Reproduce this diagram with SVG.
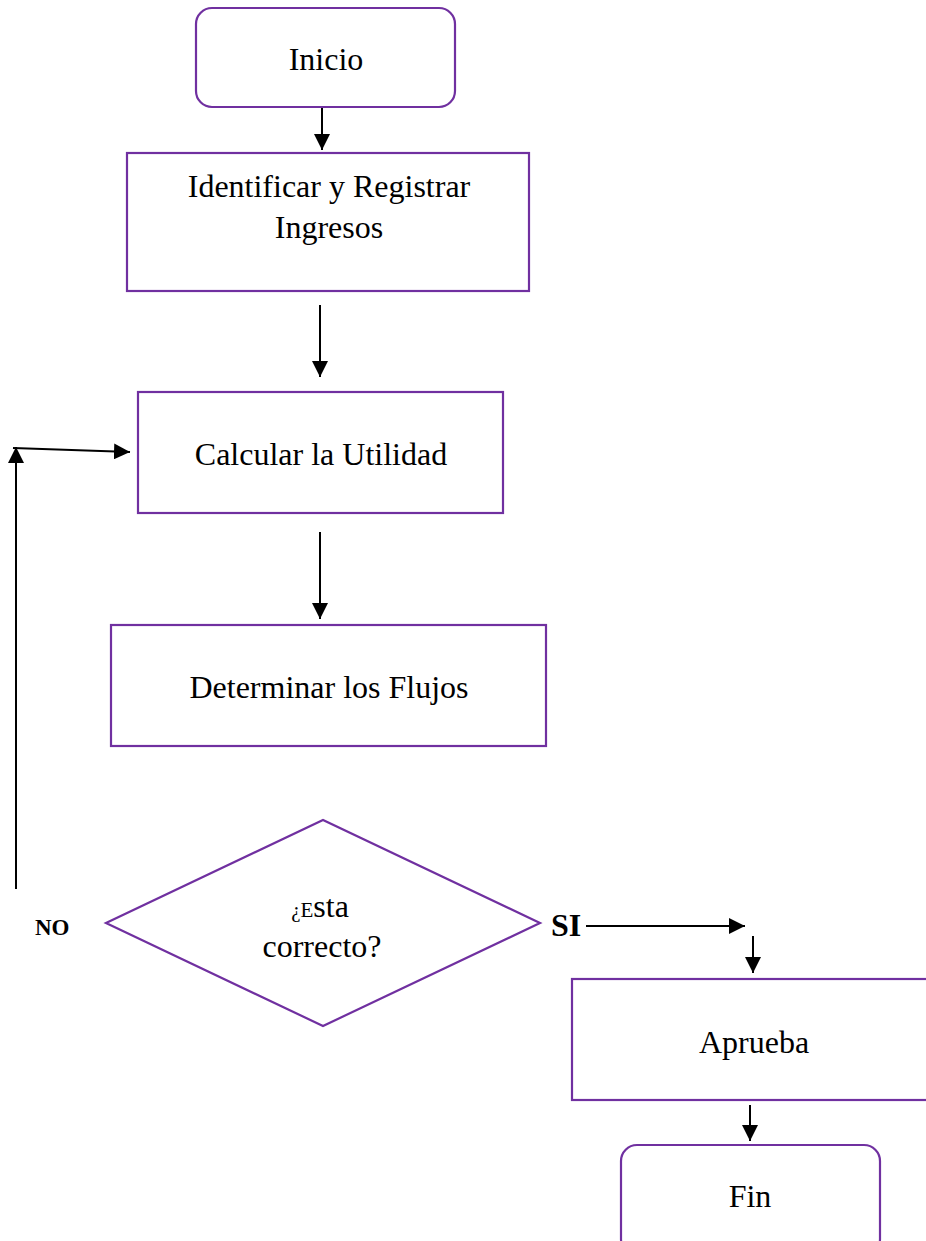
<svg xmlns="http://www.w3.org/2000/svg" width="926" height="1241" viewBox="0 0 926 1241">
<style>
.n{fill:#fff;stroke:#7030A0;stroke-width:2.2}
.t{font-family:"Liberation Serif",serif;font-size:32px;fill:#000;text-anchor:middle}
.b{font-family:"Liberation Serif",serif;font-weight:bold;fill:#000}
.c{stroke:#000;stroke-width:2;fill:none}
</style>
<defs>
<marker id="a" viewBox="0 0 10 10" refX="10" refY="5" markerWidth="16" markerHeight="16" markerUnits="userSpaceOnUse" orient="auto">
<path d="M0,0 L10,5 L0,10 z" fill="#000"/>
</marker>
</defs>
<rect width="926" height="1241" fill="#fff"/>
<g id="connectors">
<line class="c" x1="322" y1="108" x2="322" y2="150" marker-end="url(#a)"/>
<line class="c" x1="320" y1="305" x2="320" y2="377" marker-end="url(#a)"/>
<line class="c" x1="320" y1="532" x2="320" y2="619" marker-end="url(#a)"/>
<line class="c" x1="16" y1="889" x2="16" y2="447" marker-end="url(#a)"/>
<line class="c" x1="13" y1="448" x2="130" y2="452" marker-end="url(#a)"/>
<line class="c" x1="586" y1="926" x2="745" y2="926" marker-end="url(#a)"/>
<line class="c" x1="753" y1="936" x2="753" y2="973" marker-end="url(#a)"/>
<line class="c" x1="750" y1="1105" x2="750" y2="1141" marker-end="url(#a)"/>
</g>
<g id="inicio">
<rect class="n" x="196" y="8" width="259" height="99" rx="16"/>
<text class="t" x="326" y="70">Inicio</text>
</g>
<g id="identificar">
<rect class="n" x="127" y="153" width="402" height="138"/>
<text class="t" x="329" y="197">Identificar y Registrar</text>
<text class="t" x="329" y="238">Ingresos</text>
</g>
<g id="calcular">
<rect class="n" x="138" y="392" width="365" height="121"/>
<text class="t" x="321" y="465">Calcular la Utilidad</text>
</g>
<g id="determinar">
<rect class="n" x="111" y="625" width="435" height="121"/>
<text class="t" x="329" y="698">Determinar los Flujos</text>
</g>
<g id="decision">
<polygon class="n" points="106,923 323,820 540,923 323,1026"/>
<text class="t" x="320" y="917"><tspan font-size="21">¿E</tspan><tspan>sta</tspan></text>
<text class="t" x="322" y="957">correcto?</text>
</g>
<g id="labels">
<text class="b" x="35" y="935" font-size="23">NO</text>
<text class="b" x="551" y="936" font-size="32">SI</text>
</g>
<g id="aprueba">
<rect class="n" x="572" y="979" width="360" height="121"/>
<text class="t" x="754" y="1053">Aprueba</text>
</g>
<g id="fin">
<rect class="n" x="621" y="1145" width="259" height="110" rx="16"/>
<text class="t" x="750" y="1207">Fin</text>
</g>
</svg>
